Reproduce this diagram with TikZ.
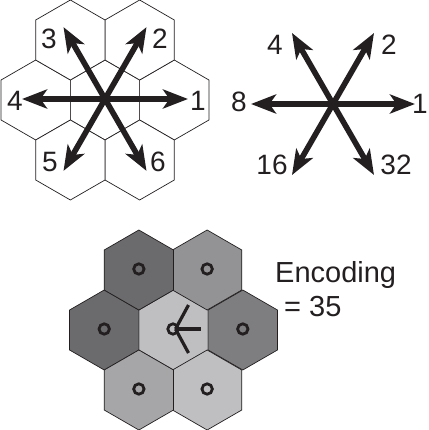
\documentclass[tikz,border=0pt]{standalone}
\usepackage{fontspec}
\setmainfont{Liberation Sans}
\usetikzlibrary{arrows.meta,calc}
\definecolor{hexdark}{HTML}{6B6B6D}
\definecolor{hexmid}{HTML}{939395}
\definecolor{hexmd}{HTML}{7E7E81}
\definecolor{hexlt}{HTML}{A6A6A8}
\definecolor{hexxl}{HTML}{BFBFC1}
\definecolor{inkc}{HTML}{231F20}
\begin{document}
\begin{tikzpicture}[x=1pt,y=-1pt,
  hexcell/.style={draw=inkc,line width=0.7pt},
  bigarrow/.style={draw=inkc,line width=5.6pt,-{Stealth[length=25pt,width=19pt,inset=6.5pt]}},
  lab/.style={font=\fontsize{28}{28}\selectfont,text=inkc,inner sep=0pt},
  marker/.style={draw=inkc,line width=2.8pt},
  dirline/.style={draw=inkc,line width=3.2pt}]
\useasboundingbox (0,0) rectangle (428,430);
\def\R{40}
\newcommand\hexcellat[3]{%
  \path[hexcell,fill=#3,shift={(#1,#2)}] (90:\R) -- (150:\R) -- (210:\R) -- (270:\R) -- (330:\R) -- (30:\R) -- cycle;}
% ---------- top-left cluster ----------
\hexcellat{105}{100}{white}
\hexcellat{174.28}{100}{white}
\hexcellat{35.72}{100}{white}
\hexcellat{139.64}{40}{white}
\hexcellat{70.36}{40}{white}
\hexcellat{139.64}{160}{white}
\hexcellat{70.36}{160}{white}
\coordinate (Ac) at (105,99);
\foreach \a/\n in {0/a1,300/a2,240/a3,180/a4,120/a5,60/a6}{
  \coordinate (\n) at ($(Ac)+(\a:83)$);
}
\foreach \n in {a1,a2,a3,a4,a5,a6}{\draw[bigarrow] (Ac) -- (\n);}
\node[lab] (l1) at (198,101) {1};
\node[lab] (l2) at (160,39) {2};
\node[lab] (l3) at (49,39) {3};
\node[lab] (l4) at (15,101) {4};
\node[lab] (l5) at (50,162) {5};
\node[lab] (l6) at (158,162) {6};
% ---------- top-right star ----------
\coordinate (Bc) at (333,104);
\foreach \a/\n in {0/b1,300/b2,240/b3,180/b4,120/b5,60/b6}{
  \coordinate (\n) at ($(Bc)+(\a:82)$);
}
\foreach \n in {b1,b2,b3,b4,b5,b6}{\draw[bigarrow] (Bc) -- (\n);}
\node[lab,anchor=east] (m1) at (428,104) {1};
\node[lab] (m2) at (389,45) {2};
\node[lab] (m4) at (275,45) {4};
\node[lab] (m8) at (239,102) {8};
\node[lab] (m16) at (272,165) {16};
\node[lab] (m32) at (396,165) {32};
% ---------- bottom cluster ----------
\hexcellat{173.5}{330}{hexxl}
\hexcellat{242.78}{330}{hexmd}
\hexcellat{104.22}{330}{hexdark}
\hexcellat{207.14}{270}{hexmid}
\hexcellat{138.86}{270}{hexdark}
\hexcellat{207.14}{390}{hexxl}
\hexcellat{138.86}{390}{hexlt}
\foreach \x/\y/\n in {138.86/269/c1,207.14/269/c2,104.22/329/c3,242.78/329/c4,138.86/389/c5,207.14/389/c6,173/329/c0}{
  \coordinate (\n) at (\x,\y);
  \draw[marker] (\n) circle (5.2);
}
\coordinate (Cs) at (175.5,329);
\coordinate (d1) at (201,329);
\coordinate (d2) at (188.5,305);
\coordinate (d3) at (188.5,353);
\draw[dirline] (Cs) -- (d1);
\draw[dirline] (Cs) -- (d2);
\draw[dirline] (Cs) -- (d3);
\node[lab,anchor=base west,font=\fontsize{29}{29}\selectfont] (enc) at (275,282) {Encoding};
\node[lab,anchor=base west,font=\fontsize{29}{29}\selectfont] (val) at (284,316) {= 35};
\end{tikzpicture}
\end{document}
